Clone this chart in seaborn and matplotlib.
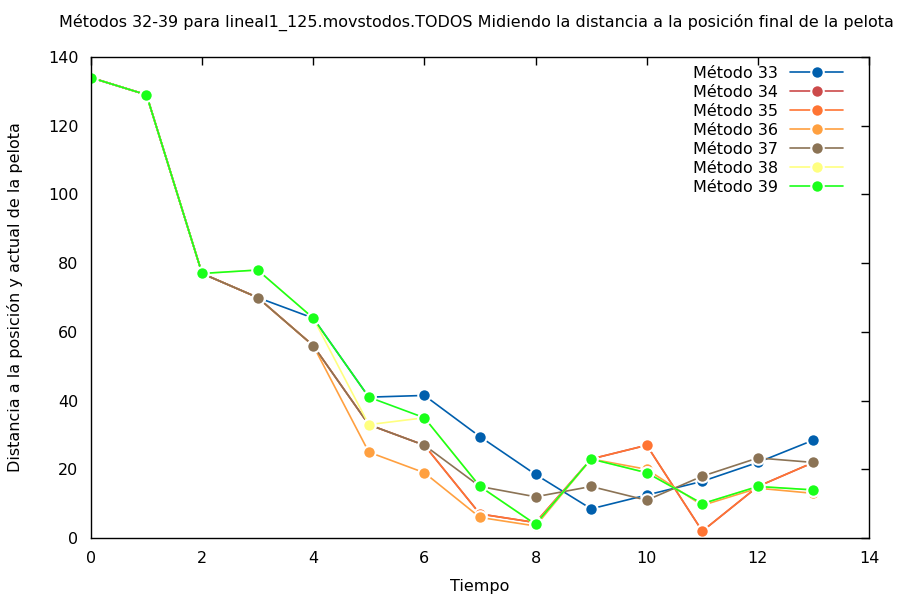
import pandas as pd
import numpy as np
import matplotlib
matplotlib.use("Agg")
import matplotlib.pyplot as plt
import seaborn as sns

# ============================================================
# DATA
# ============================================================

tiempo = list(range(14))

metodo_33 = [134, 129, 77, 70, 64, 41, 41.5, 29.5, 18.5, 8.5, 12.5, 16.5, 22, 28.5]
metodo_34 = [134, 129, 77, 70, 56, 33, 27, 7, 4.5, 23, 27, 2, 15, 22]
metodo_35 = [134, 129, 77, 70, 56, 33, 27, 7, 4.5, 23, 27, 2, 15, 22]
metodo_36 = [134, 129, 77, 70, 56, 25, 19, 6, 3.5, 23, 20, 9.5, 14.5, 13]
metodo_37 = [134, 129, 77, 70, 56, 33, 27, 15, 12, 15, 11, 18, 23.3, 22]
metodo_38 = [134, 129, 77, 78, 64, 33, 35, 15, 4, 23, 19, 10, 15, 14]
metodo_39 = [134, 129, 77, 78, 64, 41, 35, 15, 4, 23, 19, 10, 15, 14]

NOMBRES = ["Método 33", "Método 34", "Método 35", "Método 36",
           "Método 37", "Método 38", "Método 39"]
SERIES = [metodo_33, metodo_34, metodo_35, metodo_36,
          metodo_37, metodo_38, metodo_39]
COLORES = ["#005fad", "#cc4a4a", "#ff7433", "#ffa040",
           "#8b7355", "#ffff80", "#1aff1a"]

rows = []
for nombre, valores in zip(NOMBRES, SERIES):
    for t, v in zip(tiempo, valores):
        rows.append({"Tiempo": t, "valor": v, "metodo": nombre})
df = pd.DataFrame(rows)

# ============================================================
# PLOT
# ============================================================

sns.set_style("white")
plt.rcParams["font.family"] = ["DejaVu Sans"]
plt.rcParams["text.color"] = "black"

fig, ax = plt.subplots(figsize=(9, 6), dpi=100)
fig.subplots_adjust(left=0.101, right=0.9656, top=0.905, bottom=0.1033)

sns.lineplot(
    data=df, x="Tiempo", y="valor", hue="metodo",
    hue_order=NOMBRES, palette=dict(zip(NOMBRES, COLORES)),
    marker="o", markersize=9, markeredgecolor="white",
    markeredgewidth=1.5, linewidth=1.2, ax=ax
)

ax.set_xlim(0, 14)
ax.set_ylim(0, 140)
ax.set_xticks(range(0, 15, 2))
ax.set_yticks(range(0, 141, 20))
ax.tick_params(direction="in", length=6, width=1, labelsize=11.5,
               top=True, right=True, colors="black", pad=9)
for s in ax.spines.values():
    s.set_color("black")
    s.set_linewidth(1)

ax.set_xlabel("Tiempo", fontsize=11.5, labelpad=10, color="black")
ax.set_ylabel("Distancia a la posición y actual de la pelota",
              fontsize=11.5, labelpad=18, color="black")
ax.set_title(
    "Métodos 32-39 para lineal1_125.movstodos.TODOS Midiendo la distancia "
    "a la posición final de la pelota",
    fontsize=11.5, pad=22, x=0.495, color="black"
)

ax.legend(
    loc="upper right", bbox_to_anchor=(0.975, 0.995), frameon=False,
    markerfirst=False, fontsize=11.5,
    handlelength=3.3, labelspacing=0.25, borderaxespad=0.0,
    handletextpad=0.8
)

plt.savefig("out.png", dpi=100)
plt.close()
